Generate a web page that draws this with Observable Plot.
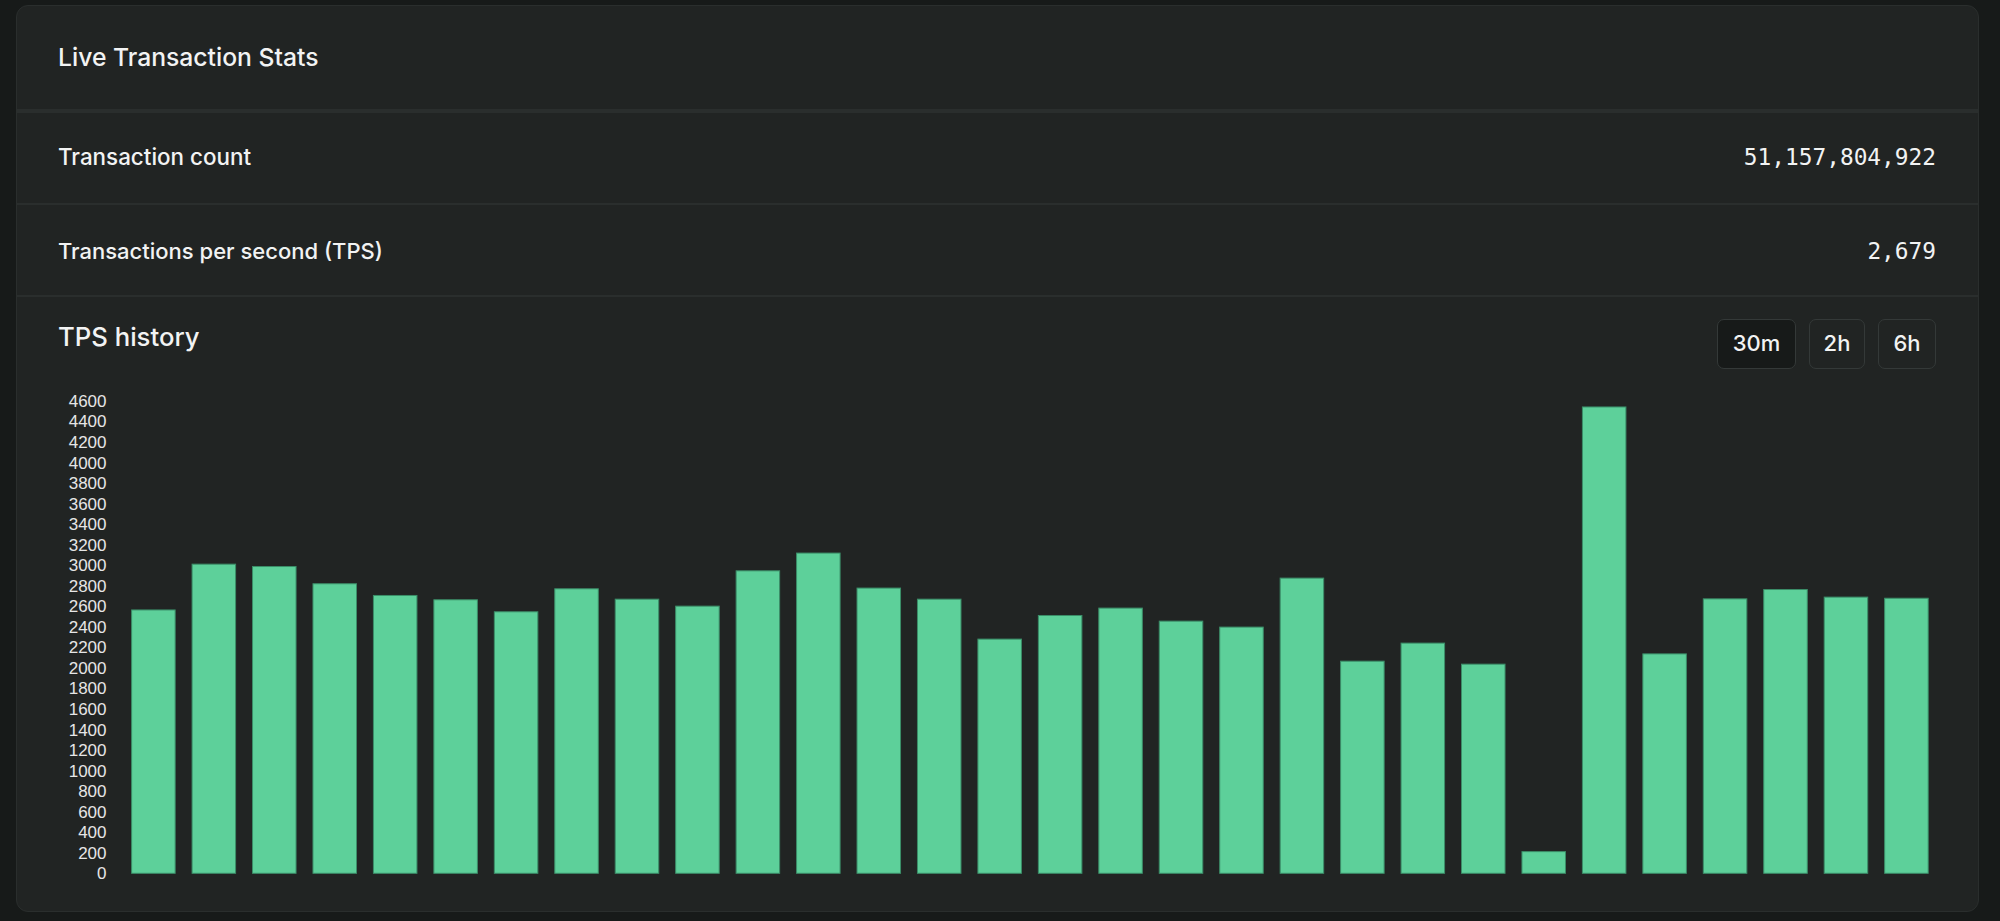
<!DOCTYPE html>
<html>
<head>
<meta charset="utf-8">
<script src="https://cdn.jsdelivr.net/npm/d3@7"></script>
<script src="https://cdn.jsdelivr.net/npm/@observablehq/plot@0.6"></script>
<style>
  html, body { margin: 0; padding: 0; background: #171a19; width: 2000px; height: 921px; overflow: hidden; }
  body { position: relative; font-family: Inter, "Noto Sans", sans-serif; color: #f2f3f3; }
  .card { position: absolute; left: 16px; top: 5px; width: 1963px; height: 907px; background: #212423; border-radius: 12px; box-sizing: border-box; border: 1px solid #2a2e2d; }
  .sep { position: absolute; left: 16px; width: 1963px; background: #2a2e2d; }
  .t { position: absolute; white-space: nowrap; line-height: 30px; height: 30px; font-weight: 500; }
  .num { font-family: "DejaVu Sans Mono", monospace; font-size: 22.8px; right: 64px; text-align: right; font-weight: normal; }
  .btn { position: absolute; top: 319px; height: 50px; box-sizing: border-box; border: 1.5px solid #343938; border-radius: 7px; font-size: 22px; font-weight: 500; line-height: 47px; text-align: center; color: #f2f3f3; }
  #chart { position: absolute; left: 0; top: 380px; }
</style>
</head>
<body>
<div class="card"></div>
<div class="sep" style="top:109px;height:4px;"></div>
<div class="sep" style="top:203px;height:2px;"></div>
<div class="sep" style="top:295px;height:2px;"></div>

<div class="t" style="left:58px;top:42px;font-size:24.7px;">Live Transaction Stats</div>
<div class="t" style="left:58px;top:142px;font-size:22.4px;">Transaction count</div>
<div class="t num" style="top:142px;">51,157,804,922</div>
<div class="t" style="left:58px;top:236px;font-size:22px;">Transactions per second (TPS)</div>
<div class="t num" style="top:236px;">2,679</div>
<div class="t" style="left:58px;top:322px;font-size:25.7px;">TPS history</div>

<div class="btn" style="left:1717px;width:79px;background:#171a19;">30m</div>
<div class="btn" style="left:1809px;width:56px;">2h</div>
<div class="btn" style="left:1878px;width:58px;">6h</div>

<div id="chart"></div>

<script>
// Minute buckets of the 30-minute window (oldest to newest)
const minutes = [1, 2, 3, 4, 5, 6, 7, 8, 9, 10, 11, 12, 13, 14, 15, 16, 17, 18, 19, 20, 21, 22, 23, 24, 25, 26, 27, 28, 29, 30];
// TPS values
const tps = [2565, 3011, 2988, 2820, 2706, 2664, 2547, 2771, 2670, 2602,
             2946, 3119, 2778, 2670, 2281, 2511, 2583, 2456, 2398, 2875,
             2066, 2242, 2037, 211, 4542, 2137, 2673, 2764, 2690, 2679];
// Y-axis tick labels
const yTicks = [0, 200, 400, 600, 800, 1000, 1200, 1400, 1600, 1800, 2000, 2200, 2400,
                2600, 2800, 3000, 3200, 3400, 3600, 3800, 4000, 4200, 4400, 4600];

const data = minutes.map((m, i) => ({minute: m, tps: tps[i]}));

const chart = Plot.plot({
  width: 2000,
  height: 510,
  marginLeft: 114.7,
  marginRight: 54.9,
  marginTop: 21,
  marginBottom: 16.7,
  style: {background: "transparent", color: "#e6e6e6", fontFamily: "'Liberation Sans', Arial, sans-serif", fontSize: "17px"},
  x: {type: "band", domain: minutes, padding: 0.28, round: false, axis: null},
  y: {domain: [0, 4600], label: null},
  marks: [
    Plot.barY(data, {x: "minute", y: "tps", fill: "#5dd09a", stroke: "#3b8d68", strokeWidth: 1}),
    Plot.axisY({ticks: yTicks, tickSize: 0, tickPadding: 8.7, tickFormat: d => String(d), fontSize: 17, fill: "#e6e6e6", label: null})
  ]
});
document.getElementById("chart").appendChild(chart);
</script>
</body>
</html>
